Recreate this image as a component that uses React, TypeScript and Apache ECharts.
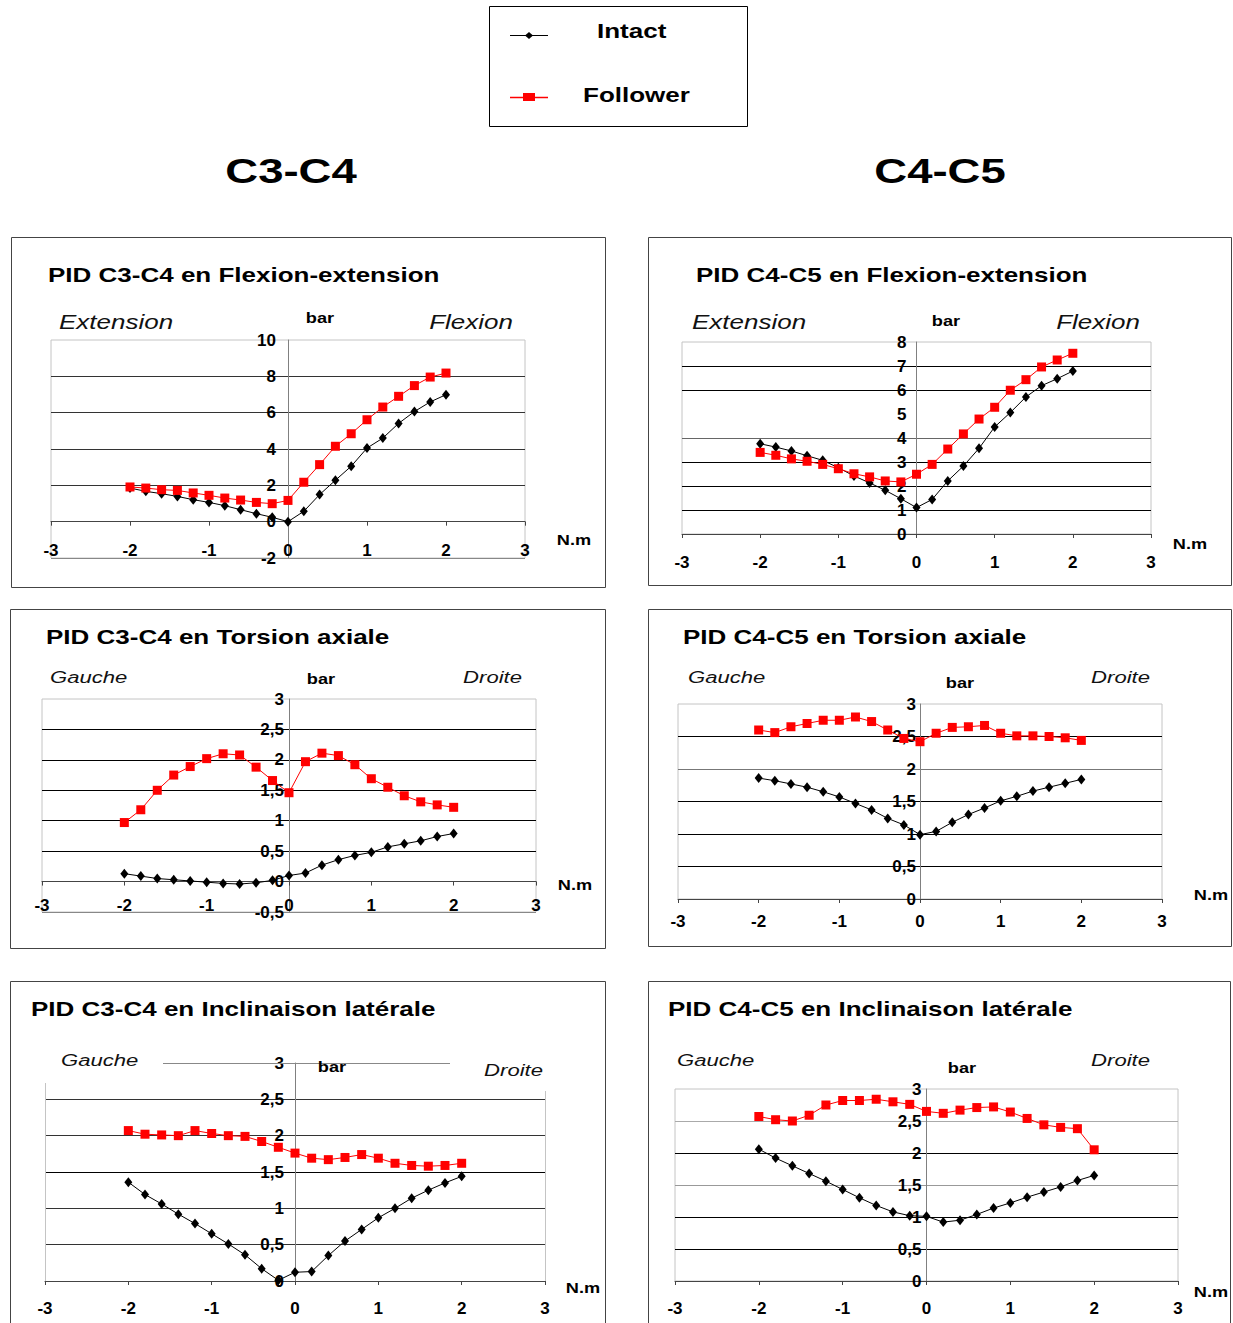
import React, { useEffect, useRef } from "react";
import * as echarts from "echarts";

// Torque (N.m) sampled values, shared by every panel
const torque = [-2, -1.8, -1.6, -1.4, -1.2, -1, -0.8, -0.6, -0.4, -0.2, 0, 0.2, 0.4, 0.6, 0.8, 1, 1.2, 1.4, 1.6, 1.8, 2];

// Pressure (bar) values
const c34FlexIntact = [1.85, 1.67, 1.54, 1.39, 1.21, 1.06, 0.88, 0.66, 0.44, 0.24, 0, 0.57, 1.49, 2.28, 3.05, 4.05, 4.6, 5.41, 6.06, 6.59, 6.99];
const c34FlexFollower = [1.91, 1.85, 1.76, 1.72, 1.58, 1.45, 1.3, 1.19, 1.06, 0.99, 1.17, 2.17, 3.14, 4.15, 4.84, 5.61, 6.31, 6.9, 7.49, 7.96, 8.18];
const c45FlexIntact = [3.76, 3.62, 3.46, 3.26, 3.07, 2.76, 2.42, 2.13, 1.82, 1.47, 1.1, 1.44, 2.21, 2.83, 3.57, 4.46, 5.06, 5.71, 6.18, 6.47, 6.79];
const c45FlexFollower = [3.4, 3.28, 3.13, 3.03, 2.9, 2.72, 2.51, 2.38, 2.21, 2.17, 2.49, 2.9, 3.54, 4.17, 4.79, 5.28, 5.99, 6.43, 6.96, 7.25, 7.53];
const c34TorsIntact = [0.13, 0.09, 0.05, 0.03, 0.01, -0.01, -0.03, -0.04, -0.02, 0.02, 0.1, 0.14, 0.27, 0.36, 0.43, 0.48, 0.57, 0.62, 0.67, 0.74, 0.79];
const c34TorsFollower = [0.97, 1.18, 1.5, 1.75, 1.89, 2.02, 2.1, 2.08, 1.88, 1.66, 1.46, 1.97, 2.11, 2.07, 1.92, 1.69, 1.55, 1.41, 1.31, 1.26, 1.22];
const c45TorsIntact = [1.86, 1.82, 1.77, 1.72, 1.65, 1.57, 1.47, 1.37, 1.24, 1.14, 0.99, 1.04, 1.18, 1.3, 1.4, 1.51, 1.58, 1.66, 1.72, 1.78, 1.84];
const c45TorsFollower = [2.6, 2.56, 2.65, 2.7, 2.75, 2.75, 2.8, 2.73, 2.6, 2.47, 2.42, 2.55, 2.64, 2.65, 2.67, 2.55, 2.51, 2.51, 2.5, 2.48, 2.44];
const c34LatIntact = [1.36, 1.19, 1.06, 0.92, 0.79, 0.65, 0.51, 0.36, 0.17, 0.01, 0.12, 0.13, 0.35, 0.55, 0.71, 0.87, 1.0, 1.14, 1.25, 1.35, 1.44];
const c34LatFollower = [2.07, 2.02, 2.01, 2.0, 2.07, 2.03, 2.0, 1.99, 1.92, 1.84, 1.76, 1.69, 1.67, 1.7, 1.74, 1.69, 1.62, 1.59, 1.58, 1.59, 1.62];
const c45LatIntact = [2.06, 1.92, 1.8, 1.68, 1.56, 1.43, 1.3, 1.18, 1.08, 1.02, 1.01, 0.92, 0.95, 1.04, 1.14, 1.22, 1.31, 1.39, 1.47, 1.57, 1.65];
const c45LatFollower = [2.57, 2.52, 2.5, 2.59, 2.75, 2.82, 2.82, 2.84, 2.8, 2.76, 2.65, 2.62, 2.67, 2.71, 2.72, 2.64, 2.54, 2.44, 2.4, 2.38, 2.05];

const seriesNames = ["Intact", "Follower"];
const columnTitles = ["C3-C4", "C4-C5"];

const FONT = "'Liberation Sans', Arial, sans-serif";
const SX = 1.3; // horizontal stretch of the original picture's texts

type Panel = {
  title: string; left: string; right: string; bigSide: boolean;
  intact: number[]; follower: number[];
  yMin: number; yMax: number; yInt: number;
  box: [number, number, number, number];
  grid: [number, number, number, number];
  titlePos: [number, number]; leftPos: [number, number]; barPos: [number, number];
  rightPos: [number, number]; nmPos: [number, number];
  yMargin: number; xMargin: number; split: string[]; border: boolean;
};

const panels: Panel[] = [
  {
    title: "PID C3-C4 en Flexion-extension", left: "Extension", right: "Flexion", bigSide: true,
    intact: c34FlexIntact, follower: c34FlexFollower, yMin: -2, yMax: 10, yInt: 2,
    box: [11, 237, 594, 350], grid: [51, 340, 474, 218],
    titlePos: [48, 275], leftPos: [59, 322], barPos: [320, 318], rightPos: [513, 322], nmPos: [574, 540],
    yMargin: 12, xMargin: 20, split: ["#888", "#333", "#333", "#333", "#333", "#333"], border: true,
  },
  {
    title: "PID C4-C5 en Flexion-extension", left: "Extension", right: "Flexion", bigSide: true,
    intact: c45FlexIntact, follower: c45FlexFollower, yMin: 0, yMax: 8, yInt: 1,
    box: [648, 237, 583, 348], grid: [682, 342, 469, 192],
    titlePos: [696, 275], leftPos: [692, 322], barPos: [946, 321], rightPos: [1140, 322], nmPos: [1190, 544],
    yMargin: 10, xMargin: 20, split: ["#000", "#000", "#000", "#000", "#666", "rgba(0,0,0,0)", "#000", "#000"], border: true,
  },
  {
    title: "PID C3-C4 en Torsion axiale", left: "Gauche", right: "Droite", bigSide: false,
    intact: c34TorsIntact, follower: c34TorsFollower, yMin: -0.5, yMax: 3, yInt: 0.5,
    box: [10, 609, 595, 339], grid: [42, 699, 494, 213],
    titlePos: [46, 637], leftPos: [50, 677], barPos: [321, 679], rightPos: [522, 677], nmPos: [575, 885],
    yMargin: 5, xMargin: 15, split: ["#888", "#000", "#000", "#000", "#000", "#000", "#000"], border: true,
  },
  {
    title: "PID C4-C5 en Torsion axiale", left: "Gauche", right: "Droite", bigSide: false,
    intact: c45TorsIntact, follower: c45TorsFollower, yMin: 0, yMax: 3, yInt: 0.5,
    box: [648, 609, 583, 337], grid: [678, 704, 484, 195],
    titlePos: [683, 637], leftPos: [688, 677], barPos: [960, 683], rightPos: [1150, 677], nmPos: [1211, 895],
    yMargin: 4, xMargin: 14, split: ["#000", "#000", "#000", "#000", "#777", "#000"], border: true,
  },
  {
    title: "PID C3-C4 en Inclinaison latérale", left: "Gauche", right: "Droite", bigSide: false,
    intact: c34LatIntact, follower: c34LatFollower, yMin: 0, yMax: 3, yInt: 0.5,
    box: [10, 981, 595, 345], grid: [45, 1063, 500, 218],
    titlePos: [31, 1009], leftPos: [61, 1060], barPos: [332, 1067], rightPos: [543, 1070], nmPos: [583, 1288],
    yMargin: 11, xMargin: 19, split: ["#000", "#333", "#333", "#000", "#333", "#333"], border: false,
  },
  {
    title: "PID C4-C5 en Inclinaison latérale", left: "Gauche", right: "Droite", bigSide: false,
    intact: c45LatIntact, follower: c45LatFollower, yMin: 0, yMax: 3, yInt: 0.5,
    box: [648, 981, 582, 345], grid: [675, 1089, 503, 192],
    titlePos: [668, 1009], leftPos: [677, 1060], barPos: [962, 1068], rightPos: [1150, 1060], nmPos: [1211, 1292],
    yMargin: 5, xMargin: 19, split: ["#000", "#000", "#000", "#999", "#000", "#aaa"], border: true,
  },
];

function txt(text: string, x: number, y: number, size: number, opts: any = {}) {
  const align = opts.align || "left";
  return {
    type: "text",
    x, y,
    scaleX: opts.scaleX ?? SX,
    z: 50,
    style: {
      text,
      fontSize: size,
      fontWeight: opts.weight || "normal",
      fontStyle: opts.italic ? "italic" : "normal",
      fontFamily: FONT,
      fill: opts.color || "#000",
      textAlign: align,
      align,
      textVerticalAlign: "middle",
      verticalAlign: "middle",
    },
  };
}

function buildOption() {
  const grids: any[] = [];
  const xAxes: any[] = [];
  const yAxes: any[] = [];
  const series: any[] = [];
  const graphics: any[] = [];

  const fmt = (v: number) => String(v).replace(".", ",");

  panels.forEach((p, i) => {
    const [gl, gt, gw, gh] = p.grid;
    // the axes cross at (0, 0): shift them from the grid edges to the zero lines
    const xOffset = -gh * (0 - p.yMin) / (p.yMax - p.yMin);
    const yOffset = -gw * (0 - -3) / 6;
    grids.push({
      left: gl, top: gt, width: gw, height: gh,
      show: true, backgroundColor: "#fff",
      borderColor: p.border ? "#c4c4c4" : "rgba(0,0,0,0)", borderWidth: 1,
      containLabel: false,
    });
    xAxes.push({
      gridIndex: i, type: "value", min: -3, max: 3, interval: 1, position: "bottom",
      offset: xOffset,
      axisLine: { show: true, onZero: false, lineStyle: { color: "#444", width: 1 } },
      axisTick: { show: true, length: 4, lineStyle: { color: "#444" } },
      axisLabel: { show: true, margin: p.xMargin, fontSize: 17, fontWeight: "bold", fontFamily: FONT, color: "#000" },
      splitLine: { show: false },
    });
    yAxes.push({
      gridIndex: i, type: "value", min: p.yMin, max: p.yMax, interval: p.yInt, position: "left",
      offset: yOffset,
      axisLine: { show: true, onZero: false, lineStyle: { color: "#808080", width: 1 } },
      axisTick: { show: false },
      axisLabel: {
        show: true, margin: p.yMargin, fontSize: 17, fontWeight: "bold", fontFamily: FONT, color: "#000",
        formatter: fmt,
      },
      splitLine: { show: true, showMaxLine: false, lineStyle: { color: p.split, width: 1 } },
    });
    series.push({
      name: seriesNames[0], type: "line", xAxisIndex: i, yAxisIndex: i,
      data: torque.map((x, k) => [x, p.intact[k]]),
      symbol: "diamond", symbolSize: [8, 10], showSymbol: true,
      lineStyle: { color: "#000", width: 1 }, itemStyle: { color: "#000" },
      z: 3,
    });
    series.push({
      name: seriesNames[1], type: "line", xAxisIndex: i, yAxisIndex: i,
      data: torque.map((x, k) => [x, p.follower[k]]),
      symbol: "rect", symbolSize: 9, showSymbol: true,
      lineStyle: { color: "#ff0000", width: 1 }, itemStyle: { color: "#ff0000" },
      z: 4,
    });

    const [bx, by, bw, bh] = p.box;
    graphics.push({
      type: "rect", z: -10, shape: { x: bx + 0.5, y: by + 0.5, width: bw, height: bh },
      style: { fill: "rgba(0,0,0,0)", stroke: "#444", lineWidth: 1 },
    });
    graphics.push(txt(p.title, p.titlePos[0], p.titlePos[1], 20, { weight: "bold" }));
    const sideSize = p.bigSide ? 20 : 17;
    graphics.push(txt(p.left, p.leftPos[0], p.leftPos[1], sideSize, { italic: true, color: "#111" }));
    graphics.push(txt(p.right, p.rightPos[0], p.rightPos[1], sideSize, { italic: true, color: "#111", align: "right" }));
    graphics.push(txt("bar", p.barPos[0], p.barPos[1], 14, { weight: "bold", align: "center" }));
    graphics.push(txt("N.m", p.nmPos[0], p.nmPos[1], 14, { weight: "bold", align: "center" }));
  });

  // special plot frame of the lateral C3-C4 panel
  graphics.push({ type: "line", z: 5, shape: { x1: 45.5, y1: 1083, x2: 45.5, y2: 1281 }, style: { stroke: "#c4c4c4", lineWidth: 1 } });
  graphics.push({ type: "line", z: 5, shape: { x1: 545.5, y1: 1091, x2: 545.5, y2: 1281 }, style: { stroke: "#c4c4c4", lineWidth: 1 } });
  graphics.push({ type: "line", z: 5, shape: { x1: 163, y1: 1063.5, x2: 450, y2: 1063.5 }, style: { stroke: "#888", lineWidth: 1 } });

  // column headers
  graphics.push(txt(columnTitles[0], 291, 171, 35, { weight: "bold", align: "center" }));
  graphics.push(txt(columnTitles[1], 940, 171, 35, { weight: "bold", align: "center" }));

  // legend box
  graphics.push({
    type: "rect", z: 10, shape: { x: 489.5, y: 6.5, width: 258, height: 120 },
    style: { fill: "#fff", stroke: "#000", lineWidth: 1 },
  });
  graphics.push({ type: "line", z: 11, shape: { x1: 510, y1: 35.5, x2: 548, y2: 35.5 }, style: { stroke: "#000", lineWidth: 1 } });
  graphics.push({ type: "polygon", z: 12, shape: { points: [[529, 32], [533, 35.5], [529, 39], [525, 35.5]] }, style: { fill: "#000" } });
  graphics.push({ type: "line", z: 11, shape: { x1: 510, y1: 97.5, x2: 548, y2: 97.5 }, style: { stroke: "#ff0000", lineWidth: 1.5 } });
  graphics.push({ type: "rect", z: 12, shape: { x: 523, y: 93, width: 12, height: 8 }, style: { fill: "#ff0000" } });
  graphics.push(txt(seriesNames[0], 597, 31, 20, { weight: "bold" }));
  graphics.push(txt(seriesNames[1], 583, 95, 20, { weight: "bold" }));

  return {
    animation: false,
    backgroundColor: "#fff",
    textStyle: { fontFamily: FONT },
    grid: grids,
    xAxis: xAxes,
    yAxis: yAxes,
    series,
    graphic: { elements: graphics },
  };
}

export default function App() {
  const ref = useRef<HTMLDivElement>(null);
  useEffect(() => {
    if (!ref.current) return;
    const chart = echarts.init(ref.current, undefined, { renderer: "svg" });
    chart.setOption(buildOption());
    return () => chart.dispose();
  }, []);
  return (
    <div
      ref={ref}
      style={{ position: "absolute", left: 0, top: 0, width: 1233, height: 1323, background: "#fff" }}
    />
  );
}
